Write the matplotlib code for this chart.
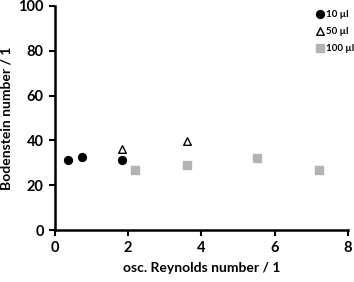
import matplotlib.pyplot as plt

plt.rcParams['font.family'] = ['Lato', 'DejaVu Sans']
plt.rcParams['font.weight'] = 'bold'

re_10 = [0.36, 0.73, 1.82]
bo_10 = [31.3, 32.8, 31.3]
re_50 = [1.82, 3.6]
bo_50 = [36.3, 39.8]
re_100 = [2.2, 3.6, 5.52, 7.2]
bo_100 = [26.8, 29.0, 32.0, 26.8]

fig = plt.figure(figsize=(3.54, 2.82), dpi=100)
ax = fig.add_axes([0.155, 0.184, 0.828, 0.795])

ax.scatter(re_10, bo_10, marker="o", s=32, color="black", label="10 µl", zorder=3)
ax.scatter(re_50, bo_50, marker="^", s=30, facecolor="white", edgecolor="black",
           linewidth=1.0, label="50 µl", zorder=3)
ax.scatter(re_100, bo_100, marker="s", s=34, color="#b3b3b3", label="100 µl", zorder=3)

ax.set_xlim(0, 8)
ax.set_ylim(0, 100)
ax.set_xticks([0, 2, 4, 6, 8])
ax.set_yticks([0, 20, 40, 60, 80, 100])
ax.set_xlabel("osc. Reynolds number / 1", fontsize=10, fontweight="bold", labelpad=5)
ax.set_ylabel("Bodenstein number / 1", fontsize=10, fontweight="bold", labelpad=4)
ax.tick_params(labelsize=10.5, width=1.5, length=4, direction="out", pad=4)
for lbl in ax.get_xticklabels() + ax.get_yticklabels():
    lbl.set_fontweight("bold")
for side in ["top", "right"]:
    ax.spines[side].set_visible(False)
for side in ["left", "bottom"]:
    ax.spines[side].set_linewidth(1.8)

ax.legend(loc="upper right", bbox_to_anchor=(1.04, 1.01), frameon=False,
          prop={"size": 7, "weight": "bold"}, handletextpad=0.1,
          handlelength=1.0, labelspacing=0.85, borderaxespad=0.2)

fig.savefig("out.png", dpi=100)
